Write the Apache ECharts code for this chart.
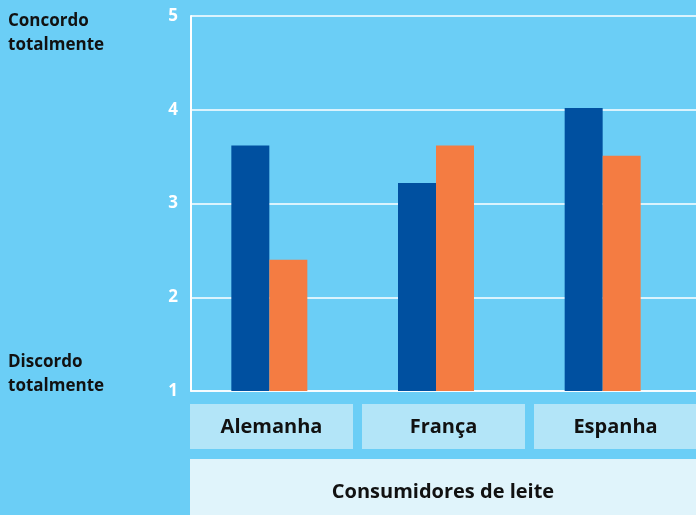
<!DOCTYPE html>
<html><head><meta charset="utf-8">
<script src="https://cdn.jsdelivr.net/npm/echarts@6/dist/echarts.min.js"></script>
<style>html,body{margin:0;padding:0;background:#6BCEF6;}#c{width:696px;height:515px;}</style>
</head><body><div id="c"></div>
<script>
const categories = ['Alemanha', 'França', 'Espanha'];
const seriesBlue = [3.62, 3.22, 4.02];
const seriesOrange = [2.40, 3.62, 3.51];
const yTicks = [1, 2, 3, 4, 5];
const topLabel = ['Concordo', 'totalmente'];
const bottomLabel = ['Discordo', 'totalmente'];
const groupLabel = 'Consumidores de leite';

const FONT = '"Open Sans", "Noto Sans", sans-serif';
const chart = echarts.init(document.getElementById('c'));

const boxLeft = 190, boxW = 163, boxGap = 9, boxTop = 404, boxH = 45;
const graphics = [];
categories.forEach((c, i) => {
  const x = boxLeft + i * (boxW + boxGap);
  const w = (i === categories.length - 1) ? 696 - x : boxW;
  graphics.push({type: 'rect', shape: {x: x, y: boxTop, width: w, height: boxH}, style: {fill: '#B3E5F8'}, silent: true});
  graphics.push({type: 'text', x: boxLeft + i * (boxW + boxGap) + boxW / 2, y: boxTop + boxH / 2 + 1,
    style: {text: c, fill: '#111', font: 'bold 20px ' + FONT, textAlign: 'center', textVerticalAlign: 'middle'}});
});
graphics.push({type: 'rect', shape: {x: 190, y: 459, width: 506, height: 56}, style: {fill: '#E0F4FB'}, silent: true});
graphics.push({type: 'text', x: 443, y: 492, style: {text: groupLabel, fill: '#111', font: 'bold 20px ' + FONT, textAlign: 'center', textVerticalAlign: 'middle'}});
graphics.push({type: 'text', x: 8, y: 9, style: {text: topLabel.join('\n'), fill: '#111', font: 'bold 17px ' + FONT, lineHeight: 24}});
graphics.push({type: 'text', x: 8, y: 350, style: {text: bottomLabel.join('\n'), fill: '#111', font: 'bold 17px ' + FONT, lineHeight: 24}});

chart.setOption({
  backgroundColor: '#6BCEF6',
  animation: false,
  grid: [
    {left: 191, right: 0, top: 16, height: 375},
    {left: 186, width: 500, top: 16, height: 375}
  ],
  xAxis: [
    {gridIndex: 0, type: 'category', data: categories, axisLine: {show: true, lineStyle: {color: '#fff', width: 1.5}}, axisTick: {show: false}, axisLabel: {show: false}},
    {gridIndex: 1, type: 'category', data: categories, axisLine: {show: false}, axisTick: {show: false}, axisLabel: {show: false}}
  ],
  yAxis: [
    {gridIndex: 0, type: 'value', min: yTicks[0], max: yTicks[yTicks.length - 1], interval: 1,
     axisLine: {show: true, lineStyle: {color: '#fff', width: 2}}, axisTick: {show: false},
     splitLine: {show: true, lineStyle: {color: '#fff', width: 1.5}},
     axisLabel: {color: '#fff', fontWeight: 'bold', fontSize: 17, fontFamily: FONT, margin: 13,
       formatter: function (v) { return yTicks.indexOf(v) >= 0 ? String(v) : ''; }}},
    {gridIndex: 1, type: 'value', min: yTicks[0], max: yTicks[yTicks.length - 1], interval: 1, show: false}
  ],
  series: [
    {type: 'bar', xAxisIndex: 1, yAxisIndex: 1, data: seriesBlue, barWidth: 38, barGap: '0%', itemStyle: {color: '#0050A0'}},
    {type: 'bar', xAxisIndex: 1, yAxisIndex: 1, data: seriesOrange, barWidth: 38, barGap: '0%', itemStyle: {color: '#F47C42'}}
  ],
  graphic: graphics
});
</script></body></html>
